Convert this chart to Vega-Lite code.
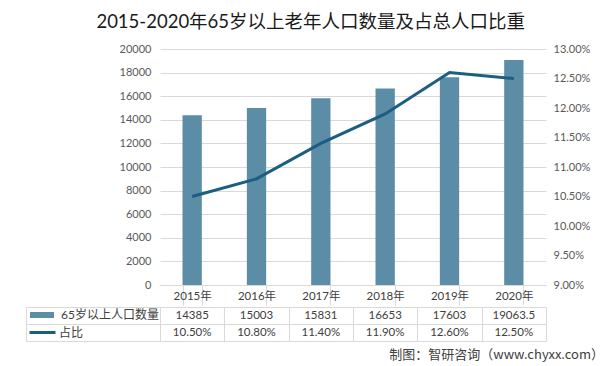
{
  "$schema": "https://vega.github.io/schema/vega-lite/v6.json",
  "padding": {"left": 25, "top": 12, "right": 0, "bottom": 0},
  "background": "white",
  "title": {
    "text": "2015-2020年65岁以上老年人口数量及占总人口比重",
    "font": "Lato, Noto Sans CJK SC",
    "fontSize": 18.5,
    "fontWeight": "normal",
    "color": "#1a1a1a",
    "anchor": "middle",
    "dx": -4,
    "offset": 12
  },
  "data": {
    "values": [
      {"year": "2015年", "count": 14385, "pct": 0.105},
      {"year": "2016年", "count": 15003, "pct": 0.108},
      {"year": "2017年", "count": 15831, "pct": 0.114},
      {"year": "2018年", "count": 16653, "pct": 0.119},
      {"year": "2019年", "count": 17603, "pct": 0.126},
      {"year": "2020年", "count": 19063.5, "pct": 0.125}
    ]
  },
  "spacing": 0,
  "vconcat": [
    {
      "width": 386,
      "height": 236,
      "layer": [
        {
          "mark": {"type": "bar"},
          "encoding": {
            "x": {
              "field": "year", "type": "nominal", "sort": null,
              "scale": {"paddingInner": 0.7, "paddingOuter": 0.35},
              "axis": {
                "title": null, "labelAngle": 0, "domain": true, "domainColor": "#d9d9d9",
                "ticks": true, "tickBand": "extent", "tickSize": 20, "tickColor": "#d9d9d9",
                "labelPadding": -9, "labelBaseline": "middle", "labelFontSize": 11.5, "labelColor": "#404040"
              }
            },
            "y": {
              "field": "count", "type": "quantitative",
              "scale": {"domain": [0, 20000]},
              "axis": {
                "title": null, "values": [0,2000,4000,6000,8000,10000,12000,14000,16000,18000,20000],
                "format": "d", "domain": false, "ticks": false, "grid": true, "gridColor": "#d9d9d9",
                "labelPadding": 9, "labelFontSize": 11, "labelColor": "#595959"
              }
            },
            "fill": {
              "datum": "65岁以上人口数量",
              "scale": {"range": ["#5b8da7"]},
              "legend": {
                "orient": "none", "legendX": -130, "legendY": 254, "title": null, "padding": 0,
                "symbolType": "M-1,-0.25H1V0.25H-1Z", "symbolSize": 576, "symbolStrokeWidth": 0,
                "labelFontSize": 12, "labelColor": "#404040", "labelOffset": 7,
                "labelFont": "Lato, Noto Sans CJK SC"
              }
            }
          }
        },
        {
          "mark": {"type": "line", "strokeWidth": 3},
          "encoding": {
            "x": {"field": "year", "type": "nominal", "sort": null},
            "y": {
              "field": "pct", "type": "quantitative",
              "scale": {"domain": [0.09, 0.13]},
              "axis": {
                "title": null, "orient": "right",
                "values": [0.09,0.095,0.1,0.105,0.11,0.115,0.12,0.125,0.13],
                "format": ".2%", "domain": false, "ticks": false, "grid": false,
                "labelPadding": 7, "labelFontSize": 11, "labelColor": "#595959"
              }
            },
            "stroke": {
              "datum": "占比",
              "scale": {"range": ["#1b5e7f"]},
              "legend": {
                "orient": "none", "legendX": -132, "legendY": 269, "title": null, "padding": 0,
                "symbolType": "stroke", "symbolSize": 676, "symbolStrokeWidth": 3,
                "labelFontSize": 12, "labelColor": "#404040", "labelOffset": 2,
                "labelFont": "Lato, Noto Sans CJK SC"
              }
            }
          }
        }
      ],
      "resolve": {"scale": {"y": "independent"}}
    },
    {
      "width": 386,
      "height": 34,
      "title": {
        "text": "制图：智研咨询（www.chyxx.com）",
        "orient": "bottom", "anchor": "end", "dx": 58, "offset": 7,
        "font": "Noto Sans CJK SC", "fontSize": 13, "fontWeight": "normal", "color": "#404040"
      },
      "encoding": {
        "x": {
          "field": "year", "type": "nominal", "sort": null,
          "scale": {"paddingInner": 0, "paddingOuter": 0},
          "axis": {
            "title": null, "labels": false, "ticks": false, "domain": false,
            "grid": true, "tickBand": "extent", "gridColor": "#d9d9d9"
          }
        }
      },
      "layer": [
        {
          "mark": {"type": "text", "fontSize": 11.5, "color": "#404040", "font": "Lato, Noto Sans CJK SC"},
          "encoding": {
            "y": {
              "datum": "r1", "type": "nominal",
              "scale": {"domain": ["r1", "r2"], "paddingInner": 0, "paddingOuter": 0},
              "axis": {
                "title": null, "labels": false, "domain": true, "domainColor": "#d9d9d9",
                "ticks": true, "tickSize": -134, "tickColor": "#d9d9d9", "tickBand": "extent",
                "offset": 134, "grid": true, "gridColor": "#d9d9d9"
              }
            },
            "text": {"field": "count", "type": "nominal"}
          }
        },
        {
          "mark": {"type": "text", "fontSize": 11.5, "color": "#404040", "font": "Lato, Noto Sans CJK SC"},
          "encoding": {
            "y": {"datum": "r2", "type": "nominal"},
            "text": {"field": "pct", "type": "quantitative", "format": ".2%"}
          }
        }
      ]
    }
  ],
  "config": {
    "view": {"stroke": null},
    "axis": {"labelFont": "Lato, Noto Sans CJK SC"}
  }
}
